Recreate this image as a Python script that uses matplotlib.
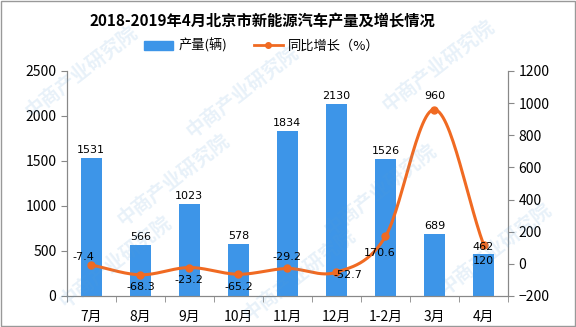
import numpy as np
import matplotlib
matplotlib.use('Agg')
import matplotlib.pyplot as plt
from matplotlib.patches import Rectangle
from matplotlib.lines import Line2D

plt.rcParams['font.family'] = ['Noto Sans CJK SC', 'DejaVu Sans']

months = ['7月', '8月', '9月', '10月', '11月', '12月', '1-2月', '3月', '4月']
output = [1531, 566, 1023, 578, 1834, 2130, 1526, 689, 462]
growth = [-7.4, -68.3, -23.2, -65.2, -29.2, -52.7, 170.6, 960, 120]

BAR_COLOR = '#3d95e8'
LINE_COLOR = '#f06a22'


def smooth(xs, ys, n=30):
    # Catmull-Rom curve through the points
    xs = np.asarray(xs, float)
    ys = np.asarray(ys, float)
    px = np.concatenate([[2 * xs[0] - xs[1]], xs, [2 * xs[-1] - xs[-2]]])
    py = np.concatenate([[2 * ys[0] - ys[1]], ys, [2 * ys[-1] - ys[-2]]])
    outx, outy = [], []
    t = np.linspace(0, 1, n)
    for i in range(1, len(px) - 2):
        for p, out in ((px, outx), (py, outy)):
            p0, p1, p2, p3 = p[i - 1], p[i], p[i + 1], p[i + 2]
            seg = 0.5 * ((2 * p1) + (-p0 + p2) * t
                         + (2 * p0 - 5 * p1 + 4 * p2 - p3) * t ** 2
                         + (-p0 + 3 * p1 - 3 * p2 + p3) * t ** 3)
            out.extend(seg)
    return np.array(outx), np.array(outy)


fig = plt.figure(figsize=(5.76, 3.27), dpi=100)
ax = fig.add_axes([0.116, 0.095, 0.766, 0.688])
ax2 = ax.twinx()

# watermark
for wx, wy in [(0.14, 0.78), (0.42, 0.72), (0.76, 0.8), (0.2, 0.2), (0.52, 0.16),
               (0.86, 0.24), (0.3, 0.45), (0.66, 0.42)]:
    fig.text(wx, wy, '中商产业研究院', rotation=38, fontsize=14, color='#5a9ed6',
             alpha=0.14, ha='center', va='center', fontweight='bold', zorder=0)

x = np.arange(len(months))
ax.bar(x, output, width=0.42, color=BAR_COLOR, zorder=2)
ax.set_xlim(-0.5, len(months) - 0.5)
ax.set_ylim(0, 2500)
ax.set_yticks(range(0, 2501, 500))
ax.set_xticks(x)
ax.set_xticklabels(months, fontsize=10)
ax.set_xticks(np.arange(-0.5, len(months), 1), minor=True)
ax.tick_params(axis='x', which='major', length=0, pad=10)
ax.tick_params(axis='x', which='minor', length=4, color='#888888')
ax.tick_params(axis='y', length=4, color='#888888', labelsize=10)

cx, cy = smooth(x, growth)
ax2.plot(cx, cy, color=LINE_COLOR, lw=2.2, zorder=3)
ax2.plot(x, growth, 'o', color=LINE_COLOR, ms=5, zorder=4)
ax2.set_ylim(-200, 1200)
ax2.set_yticks(range(-200, 1201, 200))
ax2.tick_params(axis='y', length=4, color='#888888', labelsize=10)

# bar values, drawn on top of the line
for xi, v in zip(x, output):
    ax2.annotate(str(v), (xi, v), xycoords=ax.transData, xytext=(0, 2),
                 textcoords='offset points', ha='center', va='bottom',
                 fontsize=8, family='DejaVu Sans', zorder=6)

# label offsets (points) for the growth values
offsets = [(-6, 6), (0, -9), (0, -9), (0, -9), (0, 8), (8, -2),
           (-4, -12), (0, 10), (0, -12)]
for xi, v, (dx, dy) in zip(x, growth, offsets):
    ax2.annotate(f'{v:g}', (xi, v), xytext=(dx, dy), textcoords='offset points',
                 ha='center', va='center', fontsize=8, family='DejaVu Sans', zorder=5)

for a in (ax, ax2):
    a.spines['top'].set_visible(False)
    for s in ('left', 'right', 'bottom'):
        a.spines[s].set_color('#888888')
ax.set_zorder(ax2.get_zorder() - 1)
ax.patch.set_visible(False)
ax2.patch.set_visible(False)

fig.text(0.455, 0.935, '2018-2019年4月北京市新能源汽车产量及增长情况', ha='center',
         va='center', fontsize=11, fontweight='bold')

handles = [Rectangle((0, 0), 1, 1, color=BAR_COLOR),
           Line2D([], [], color=LINE_COLOR, lw=2, marker='o', ms=4)]
fig.legend(handles, ['产量(辆)', '同比增长（%）'], loc='center', bbox_to_anchor=(0.455, 0.86),
           ncol=2, frameon=False, fontsize=9.5, handlelength=2.2, columnspacing=2.0,
           handletextpad=0.4)

fig.patches.append(Rectangle((0.001, 0.002), 0.997, 0.995, transform=fig.transFigure,
                             fill=False, edgecolor='#999999', lw=1))

fig.savefig('out.png', dpi=100)
